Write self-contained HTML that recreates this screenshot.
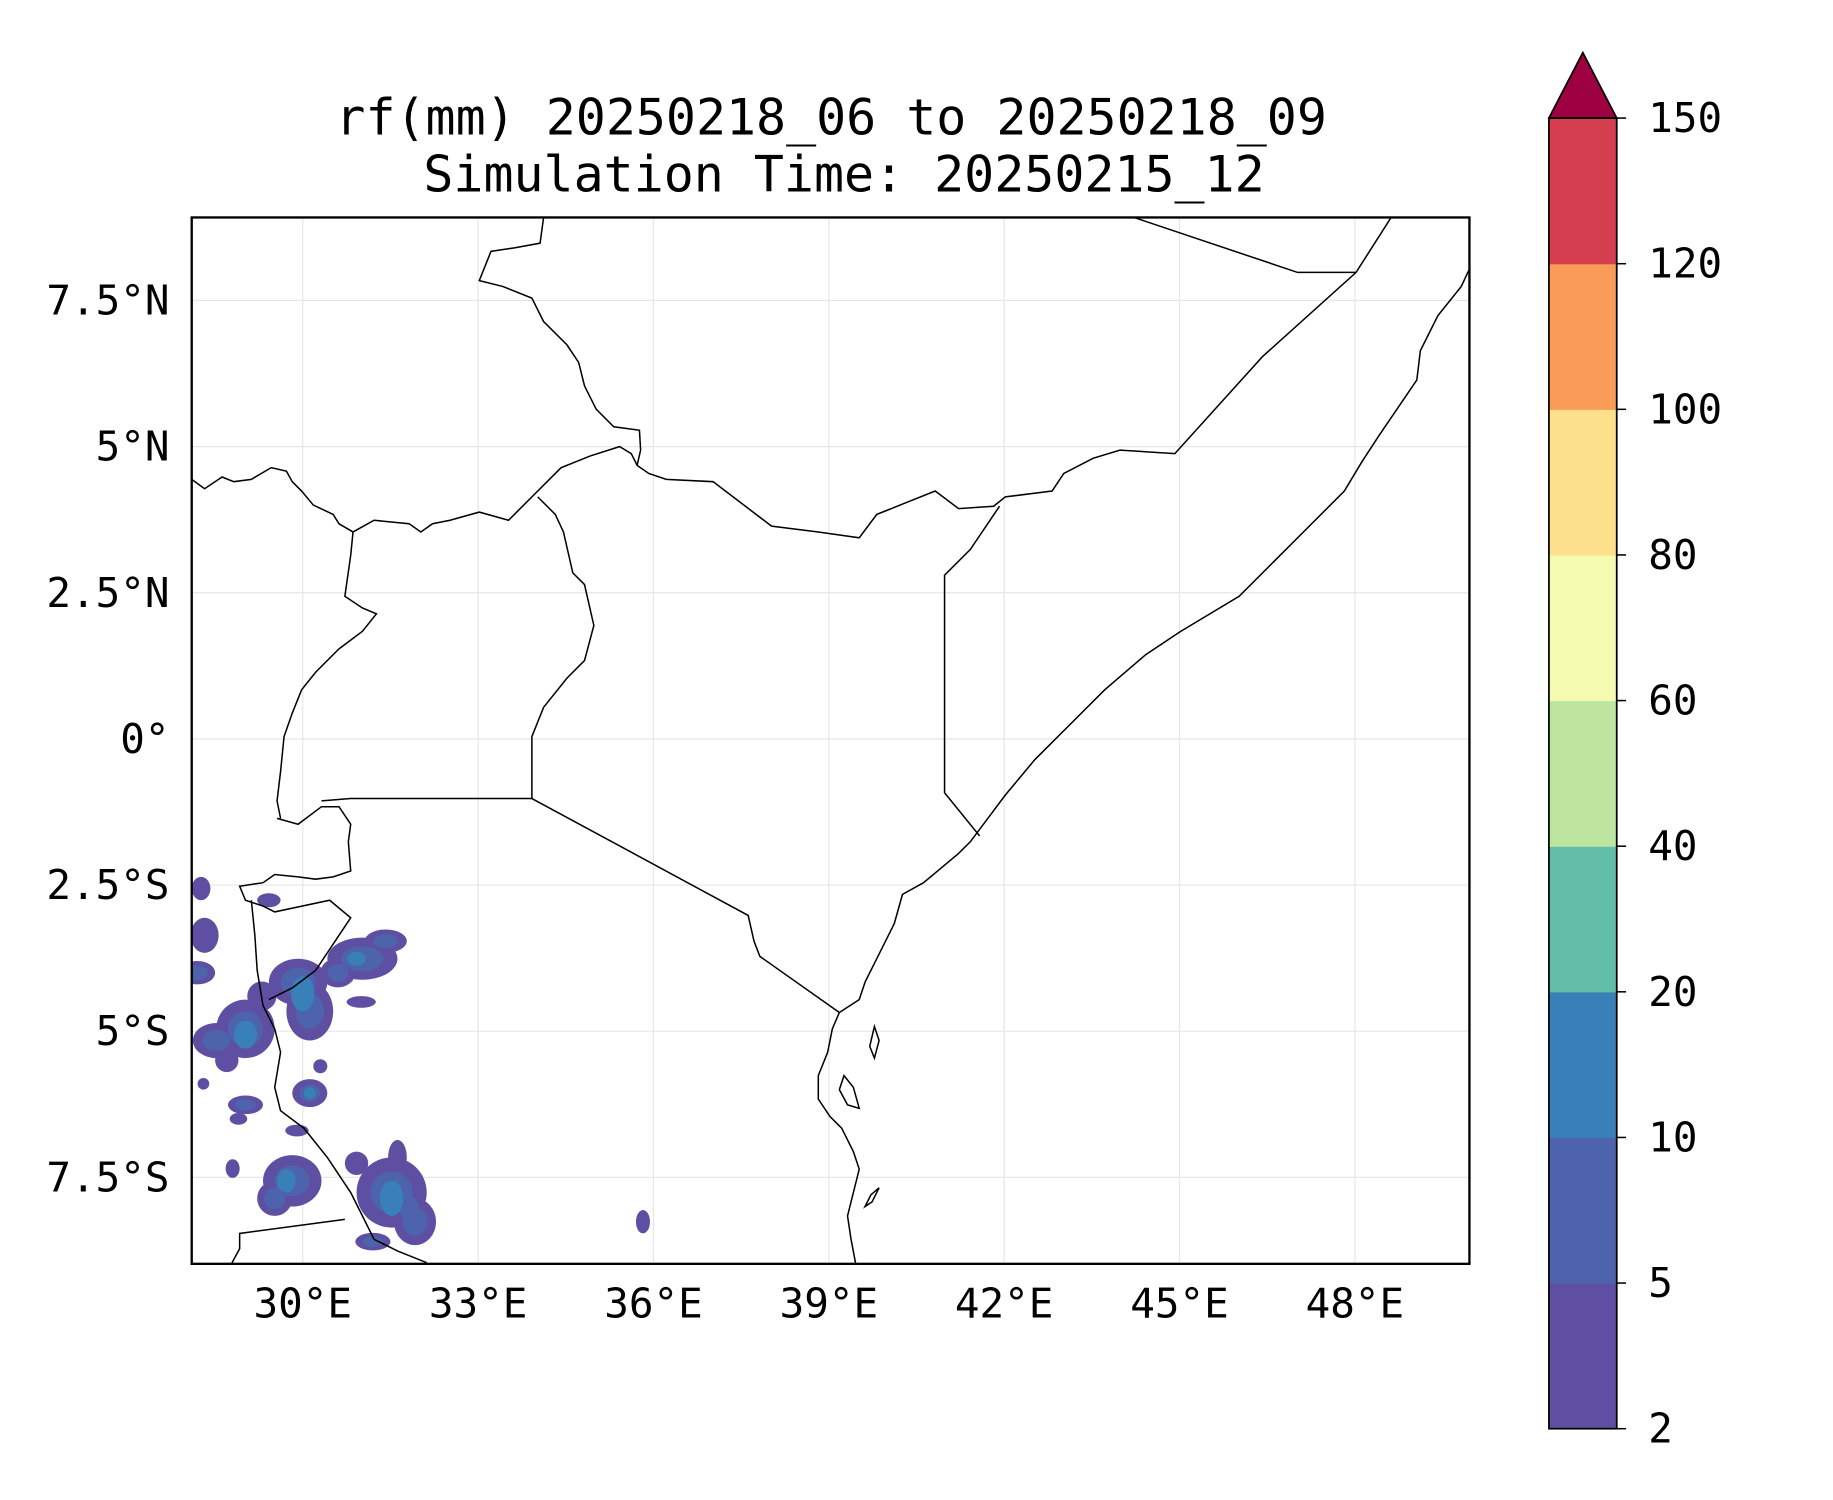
<!DOCTYPE html>
<html><head><meta charset="utf-8"><style>
html,body{margin:0;padding:0;background:#fff;}
svg{display:block;}
text{font-family:"DejaVu Sans Mono","Liberation Mono",monospace;fill:#000;}
</style></head><body>
<svg id="fig" width="1833" height="1500" viewBox="0 0 1568 1283" preserveAspectRatio="none" xmlns="http://www.w3.org/2000/svg">
<rect width="1568" height="1283" fill="#fff"/>
<text x="711" y="115" font-size="42.7" text-anchor="middle">rf(mm) 20250218_06 to 20250218_09</text>
<text x="722" y="164" font-size="42.7" text-anchor="middle">Simulation Time: 20250215_12</text>
<defs><clipPath id="mapclip"><rect x="164" y="186" width="1093" height="895"/></clipPath></defs>
<g id="grid"></g>
<g id="rain" clip-path="url(#mapclip)"></g>
<g clip-path="url(#mapclip)" fill="none" stroke="#000" stroke-width="1.3">
<polyline points="164,410 175,418 190,408 200,412 215,410 232,400 245,403 250,412 258,420 268,432 285,440 290,448 302,455 320,445 350,448 360,455 370,448 385,445 410,438 435,445 455,425 480,400 505,390 530,382 540,388 545,398 555,405 570,410 610,412 660,450 700,455 735,460 750,440 775,430 800,420 820,435 850,433 860,425 900,420 910,405 935,392 958,385 1005,388 1080,305 1160,233 1190,186"/>
<polyline points="465,186 462,208 440,212 420,215 410,240 430,245 455,255 465,275 485,295 495,310 500,330 510,350 525,365 547,368 548,385 545,398"/>
<polyline points="970,186 1110,233 1160,233"/>
<polyline points="855,433 830,470 808,492 808,678 838,715"/>
<polyline points="460,425 475,440 482,455 490,490 500,500 508,535 500,565 485,580 465,605 455,630 455,683"/>
<polyline points="302,455 300,475 295,510 310,520 322,525 310,540 290,555 270,575 258,590 250,610 243,630 240,660 237,685 240,700"/>
<polyline points="275,685 300,683 455,683"/>
<polyline points="237,700 255,705 275,690 290,690 300,705 298,720 300,745 285,750 270,752 255,750 235,748 225,755 205,758 210,770 225,775 235,780 282,770 300,785 290,800 270,830 250,845 230,855"/>
<polyline points="215,770 218,800 220,830 225,860 235,880 240,900 235,930 240,950 260,965 280,990 300,1020 310,1040 320,1060 340,1070 365,1080"/>
<polyline points="198,1081 205,1068 205,1055 295,1043"/>
<polyline points="455,683 640,783 645,805 650,818 718,866"/>
<polyline points="1257,230 1250,245 1230,270 1215,300 1212,325 1195,350 1180,372 1165,395 1150,420 1120,450 1090,480 1060,510 1010,540 980,560 945,590 915,620 885,650 860,680 845,700 830,720 820,730 808,740 790,755 772,765 765,790 760,800 750,820 740,840 735,855 718,866 712,880 708,900 700,920 700,940 710,955 720,965 730,985 735,1000 730,1020 725,1040 728,1060 732,1081"/>
<path d="M748,878 L752,890 L748,905 L744,895 Z"/>
<path d="M722,920 L730,930 L735,948 L725,945 L718,932 Z"/>
<path d="M752,1016 L746,1028 L740,1032 L745,1022 Z"/>
</g>
<rect x="164" y="186" width="1093" height="895" fill="none" stroke="#000" stroke-width="2"/>
<g id="axes"></g>
<g id="cbar"></g>
</svg>
<script>
const lonTicks=[30,33,36,39,42,45,48];
const lonLabels=["30°E","33°E","36°E","39°E","42°E","45°E","48°E"];
const latTicks=[7.5,5,2.5,0,-2.5,-5,-7.5];
const latLabels=["7.5°N","5°N","2.5°N","0°","2.5°S","5°S","7.5°S"];
const levels=[2,5,10,20,40,60,80,100,120,150];
const levelColors=["#5e4fa2","#4d63ab","#3980b9","#62bda9","#bde5a0","#f4fbb0","#fde08b","#fa9c58","#d53e4f"];
const extendColor="#9e0142";
const blobLon=[28.32,29.02,28.52,29.92,30.12,31.02,31.42,30.12,29.02,29.82,29.52,31.52,31.92,31.62,30.92,35.82,28.26,29.42,28.8,28.9,30.3,29.9,31.0,28.3,28.2,29.3,30.6,31.8,28.7,31.2];
const blobLat=[-3.36,-4.96,-5.16,-4.16,-4.66,-3.76,-3.46,-6.06,-6.26,-7.56,-7.86,-7.76,-8.26,-7.16,-7.26,-8.26,-2.56,-2.76,-7.35,-6.5,-5.6,-6.7,-4.5,-5.9,-4.0,-4.4,-4.0,-8.0,-5.5,-8.6];
const blobRx=[0.24,0.5,0.4,0.5,0.4,0.6,0.36,0.3,0.3,0.5,0.3,0.6,0.36,0.16,0.2,0.12,0.16,0.2,0.12,0.15,0.12,0.2,0.25,0.1,0.3,0.25,0.3,0.3,0.2,0.3];
const blobRy=[0.3,0.5,0.3,0.4,0.5,0.36,0.2,0.24,0.16,0.44,0.3,0.6,0.4,0.3,0.2,0.2,0.2,0.12,0.16,0.1,0.12,0.1,0.1,0.1,0.2,0.25,0.25,0.3,0.2,0.15];
const coreLon=[30.0,30.92,29.02,31.52,29.72,30.12];
const coreLat=[-4.36,-3.76,-5.06,-7.86,-7.56,-6.06];
const coreRx=[0.2,0.16,0.2,0.2,0.16,0.1];
const coreRy=[0.3,0.12,0.24,0.3,0.2,0.1];
const lon0=28.1,lat0=8.92,ppd=50,X0=164,Y0=186;
function px(lon){return X0+(lon-lon0)*ppd;}
function py(lat){return Y0+(lat0-lat)*ppd;}
const NS="http://www.w3.org/2000/svg";
function mk(t,a,p){const e=document.createElementNS(NS,t);for(const k in a)e.setAttribute(k,a[k]);p.appendChild(e);return e;}
const grid=document.getElementById('grid'),axes=document.getElementById('axes'),rain=document.getElementById('rain'),cbar=document.getElementById('cbar');
lonTicks.forEach((v,i)=>{
 const l=mk('line',{x1:px(v),x2:px(v),y1:186,y2:1081,stroke:'#e6e6e6','stroke-width':1},grid);
 
 
 const t=mk('text',{x:px(v),y:1127,'font-size':35,'text-anchor':'middle'},axes);t.textContent=lonLabels[i];
 
 
});
latTicks.forEach((v,i)=>{
 const l=mk('line',{x1:164,x2:1257,y1:py(v),y2:py(v),stroke:'#e6e6e6','stroke-width':1},grid);
 
 
 const t=mk('text',{x:145,y:py(v)+12,'font-size':35,'text-anchor':'end'},axes);t.textContent=latLabels[i];
 
 
});
blobLon.forEach((v,i)=>{
 const e=mk('ellipse',{cx:px(v),cy:py(blobLat[i]),rx:blobRx[i]*ppd,ry:blobRy[i]*ppd,fill:levelColors[0]},rain);
 
 
});
blobLon.forEach((v,i)=>{
 if(blobRx[i]<0.3)return;
 const e=mk('ellipse',{cx:px(v),cy:py(blobLat[i]),rx:blobRx[i]*ppd*0.6,ry:blobRy[i]*ppd*0.6,fill:levelColors[1]},rain);
 
 
});
coreLon.forEach((v,i)=>{
 const e=mk('ellipse',{cx:px(v),cy:py(coreLat[i]),rx:coreRx[i]*ppd,ry:coreRy[i]*ppd,fill:levelColors[2]},rain);
 
 
});
const cbX=1325,cbW=58,cbTop=101,cbBot=1222,n=levels.length-1,bh=(cbBot-cbTop)/n;
levelColors.forEach((c,i)=>{
 const r=mk('rect',{x:cbX,y:cbBot-(i+1)*bh,width:cbW,height:bh+0.5,fill:c},cbar);
 
 
});
const tri=mk('polygon',{points:`${cbX},${cbTop} ${cbX+cbW/2},45 ${cbX+cbW},${cbTop}`,fill:extendColor,stroke:'#000','stroke-width':1.5},cbar);


const fr=mk('rect',{x:cbX,y:cbTop,width:cbW,height:cbBot-cbTop,fill:'none',stroke:'#000','stroke-width':1.5},cbar);


levels.forEach((v,i)=>{
 const y=cbBot-i*bh;
 mk('line',{x1:cbX+cbW,x2:cbX+cbW+8,y1:y,y2:y,stroke:'#000','stroke-width':1.3},cbar);
 const t=mk('text',{x:1410,y:y+12,'font-size':35},cbar);t.textContent=v;
 
 
});
</script>
</body></html>
